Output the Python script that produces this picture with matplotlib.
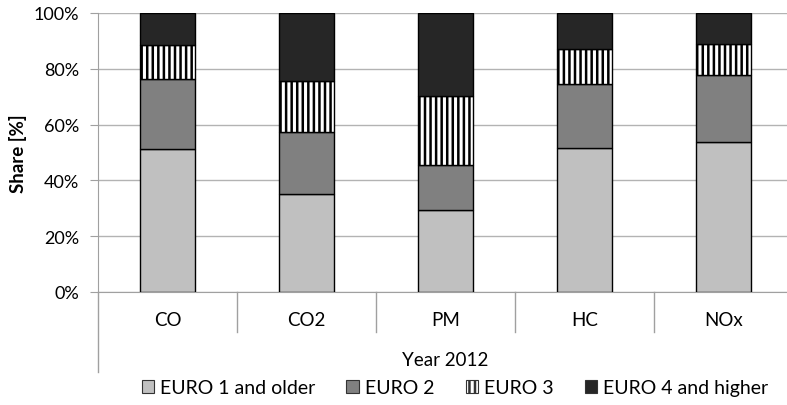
import matplotlib
matplotlib.use('Agg')
import matplotlib.pyplot as plt
from matplotlib.lines import Line2D
from matplotlib.patches import Patch
from matplotlib.ticker import PercentFormatter
import numpy as np

plt.rcParams['font.family'] = ['Lato', 'DejaVu Sans']
plt.rcParams['hatch.linewidth'] = 1.8

# Shares per pollutant, year 2012
categories = ['CO', 'CO2', 'PM', 'HC', 'NOx']
euro1 = [51.4, 35.1, 29.5, 51.5, 53.8]
euro2 = [24.8, 22.4, 16.0, 23.1, 24.0]
euro3 = [12.2, 18.2, 24.9, 12.5, 11.0]
euro4 = [11.6, 24.3, 29.6, 12.9, 11.2]
series_names = ['EURO 1 and older', 'EURO 2', 'EURO 3', 'EURO 4 and higher']
group_label = 'Year 2012'

fig = plt.figure(figsize=(7.87, 4.06), dpi=100)
# plot area runs a little past the right edge of the picture, like the original
ax = fig.add_axes([98 / 787, 113 / 406, 695 / 787, 279 / 406])

x = np.arange(len(categories))
styles = [
    dict(color='#c0c0c0'),
    dict(color='#808080'),
    dict(color='white', hatch='|||'),
    dict(color='#262626'),
]
bottom = np.zeros(len(categories))
for vals, st in zip([euro1, euro2, euro3, euro4], styles):
    ax.bar(x, vals, width=0.4, bottom=bottom, edgecolor='black', linewidth=1.0, zorder=3, **st)
    bottom += np.array(vals)

ax.set_xlim(-0.5, len(categories) - 0.5)
ax.set_ylim(0, 100)
ax.set_yticks(np.arange(0, 101, 20))
ax.yaxis.set_major_formatter(PercentFormatter(decimals=0))
ax.grid(axis='y', color='#b3b3b3', linewidth=1.0, zorder=0)
ax.tick_params(axis='y', length=5.5, color='#a0a0a0', labelsize=13, pad=8)
ax.tick_params(axis='x', length=0, labelbottom=False)
for s in ['top', 'right']:
    ax.spines[s].set_visible(False)
ax.spines['bottom'].set_color('#a0a0a0')
ax.spines['left'].set_color('#a0a0a0')

# category labels and multi-level axis lines
for i, c in enumerate(categories):
    ax.text(i, -0.1, c, transform=ax.get_xaxis_transform(), ha='center', va='center', fontsize=13.5)
ax.add_line(Line2D([0, 0], [0, -0.287], transform=ax.transAxes, color='#a0a0a0', lw=1, clip_on=False))
for k in range(1, len(categories) + 1):
    ax.add_line(Line2D([k / len(categories)] * 2, [0, -0.143], transform=ax.transAxes,
                       color='#a0a0a0', lw=1, clip_on=False))
ax.text(0.5, -0.241, group_label, transform=ax.transAxes, ha='center', va='center', fontsize=13.5)

ax.set_ylabel('Share [%]', fontsize=13.5, fontweight='bold', labelpad=5)

handles = [Patch(facecolor=st['color'], hatch=st.get('hatch'), edgecolor='#333333', linewidth=0.8)
           for st in styles]
fig.legend(handles, series_names, loc='center', bbox_to_anchor=(455 / 787, 1 - 389 / 406),
           ncol=4, frameon=False, fontsize=14, handlelength=0.65, handleheight=0.65,
           handletextpad=0.3, columnspacing=1.6)

fig.savefig('out.png', dpi=100)
